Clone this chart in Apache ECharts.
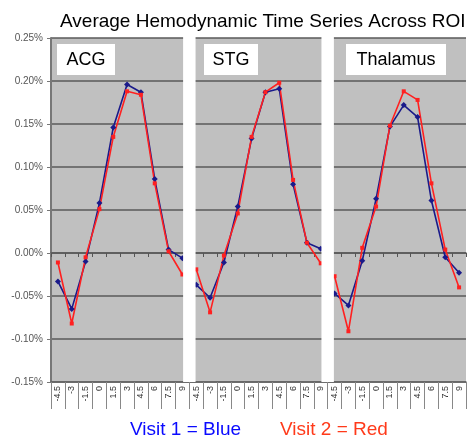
<!DOCTYPE html>
<html>
<head>
<meta charset="utf-8">
<script src="https://cdn.jsdelivr.net/npm/echarts@6/dist/echarts.min.js"></script>
<style>
  html, body { margin: 0; padding: 0; background: #fff; }
  #chart { width: 472px; height: 439px; }
</style>
</head>
<body>
<div id="chart"></div>
<script>
// time points (s) for each region, repeated once per panel
var timeLabels = ['-4.5', '-3', '-1.5', '0', '1.5', '3', '4.5', '6', '7.5', '9'];
var regions = ['ACG', 'STG', 'Thalamus'];

// % signal change
var acgBlue = [-0.033, -0.065, -0.010, 0.058, 0.146, 0.196, 0.187, 0.086, 0.004, -0.006];
var acgRed = [-0.011, -0.082, -0.005, 0.051, 0.135, 0.188, 0.184, 0.081, 0.002, -0.025];
var stgBlue = [-0.037, -0.052, -0.011, 0.054, 0.133, 0.187, 0.191, 0.080, 0.012, 0.005];
var stgRed = [-0.019, -0.069, -0.003, 0.046, 0.135, 0.187, 0.198, 0.085, 0.012, -0.012];
var thalBlue = [-0.047, -0.061, -0.009, 0.063, 0.147, 0.172, 0.158, 0.061, -0.005, -0.023];
var thalRed = [-0.027, -0.091, 0.006, 0.054, 0.148, 0.188, 0.178, 0.081, 0.004, -0.040];

var yTicks = [-0.15, -0.10, -0.05, 0.00, 0.05, 0.10, 0.15, 0.20, 0.25];

// one long category axis, panels side by side
var categories = [];
regions.forEach(function () { categories = categories.concat(timeLabels); });

function place(values, panel) {
  var out = [];
  for (var i = 0; i < categories.length; i++) {
    var k = i - panel * timeLabels.length;
    out.push(k >= 0 && k < values.length ? values[k] : '-');
  }
  return out;
}

var BLUE = '#1a1a8a';
var RED = '#ff2020';

function lineSeries(values, panel, color, symbol, size) {
  return {
    type: 'line',
    data: place(values, panel),
    connectNulls: false,
    symbol: symbol,
    symbolSize: size,
    showSymbol: true,
    lineStyle: { color: color, width: 1.6 },
    itemStyle: { color: color },
    emphasis: { disabled: true },
    animation: false
  };
}

var chart = echarts.init(document.getElementById('chart'));

var option = {
  animation: false,
  grid: { left: 51, right: 6, top: 38, bottom: 57, show: true, backgroundColor: '#c0c0c0', borderWidth: 0 },
  xAxis: [
    {
      type: 'category',
      data: categories,
      boundaryGap: true,
      axisLine: { onZero: false, lineStyle: { color: '#666', width: 1.5 } },
      axisTick: { show: true, interval: 0, length: 27, lineStyle: { color: '#888' } },
      axisLabel: { interval: 0, rotate: 90, fontSize: 9, color: '#333', margin: 4, fontFamily: 'Liberation Sans, Arial' },
      splitLine: { show: false }
    },
    {
      type: 'category',
      data: categories,
      position: 'bottom',
      boundaryGap: true,
      axisLine: { onZero: true, lineStyle: { color: '#5a5a5a', width: 1.5 } },
      axisTick: { show: true, interval: 0, length: 4, lineStyle: { color: '#555' } },
      axisLabel: { show: false },
      splitLine: { show: false }
    }
  ],
  yAxis: {
    type: 'value',
    min: -0.15,
    max: 0.25,
    interval: 0.05,
    axisLine: { show: true, lineStyle: { color: '#777', width: 2 } },
    axisTick: { show: true, length: 4, lineStyle: { color: '#777' } },
    axisLabel: {
      fontSize: 10, color: '#555', margin: 8, fontFamily: 'Liberation Sans, Arial',
      formatter: function (v) { return v.toFixed(2) + '%'; }
    },
    splitLine: { show: true, lineStyle: { color: '#5a5a5a', width: 1.5 } }
  },
  series: [
    lineSeries(acgBlue, 0, BLUE, 'diamond', 6),
    lineSeries(stgBlue, 1, BLUE, 'diamond', 6),
    lineSeries(thalBlue, 2, BLUE, 'diamond', 6),
    lineSeries(acgRed, 0, RED, 'rect', 4),
    lineSeries(stgRed, 1, RED, 'rect', 4),
    lineSeries(thalRed, 2, RED, 'rect', 4)
  ]
};

chart.setOption(option);

// white strips between panels, title, panel labels and the colour key
var graphics = [];
var yTop = chart.convertToPixel({ yAxisIndex: 0 }, yTicks[yTicks.length - 1]);
var yBot = chart.convertToPixel({ yAxisIndex: 0 }, yTicks[0]);
for (var p = 1; p < regions.length; p++) {
  var a = chart.convertToPixel({ xAxisIndex: 0 }, p * timeLabels.length - 1);
  var b = chart.convertToPixel({ xAxisIndex: 0 }, p * timeLabels.length);
  var mid = (a + b) / 2, w = b - a;
  graphics.push({
    type: 'rect', z: 10,
    shape: { x: mid - 0.45 * w, y: yTop - 1, width: 0.9 * w, height: yBot - yTop + 1 },
    style: { fill: '#fff' }
  });
}

var font = '19px "Liberation Sans", Arial, sans-serif';
graphics.push({
  type: 'text', z: 20, left: 60, top: 12,
  style: { text: 'Average Hemodynamic Time Series Across ROI', font: font, fill: '#000' }
});

var boxes = [
  { x: 57, w: 58 },
  { x: 204, w: 54 },
  { x: 346, w: 100 }
];
regions.forEach(function (name, i) {
  graphics.push({
    type: 'rect', z: 20,
    shape: { x: boxes[i].x, y: 44, width: boxes[i].w, height: 31 },
    style: { fill: '#fff' }
  });
  graphics.push({
    type: 'text', z: 21,
    x: boxes[i].x + boxes[i].w / 2, y: 60,
    style: { text: name, font: '18px "Liberation Sans", Arial, sans-serif', fill: '#000', align: 'center', verticalAlign: 'middle' }
  });
});

graphics.push({
  type: 'text', z: 20, x: 130, y: 430,
  style: { text: 'Visit 1 = Blue', font: font, fill: '#0a0aff', verticalAlign: 'middle' }
});
graphics.push({
  type: 'text', z: 20, x: 280, y: 430,
  style: { text: 'Visit 2 = Red', font: font, fill: '#ff3a1a', verticalAlign: 'middle' }
});

chart.setOption({ graphic: graphics });
</script>
</body>
</html>
